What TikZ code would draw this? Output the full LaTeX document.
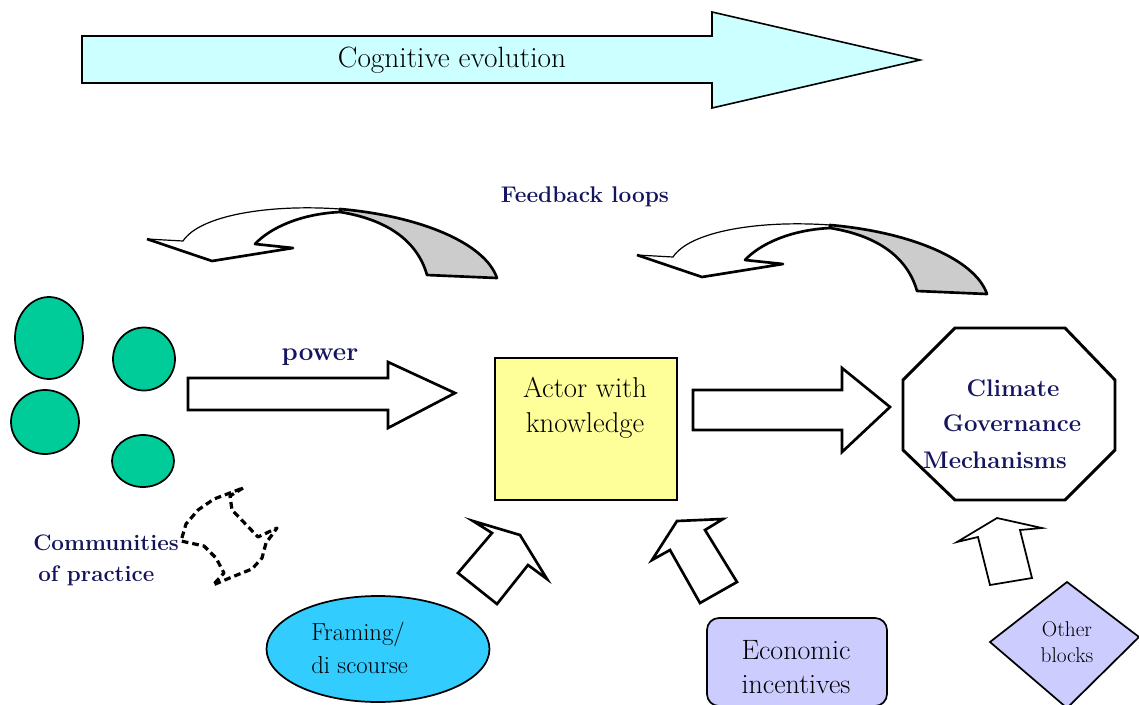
\documentclass[tikz,border=0pt]{standalone}
\usepackage{fontspec}
\usetikzlibrary{shapes.geometric}
\definecolor{cogfill}{HTML}{CCFFFF}
\definecolor{greenc}{HTML}{00CC99}
\definecolor{actorfill}{HTML}{FFFF99}
\definecolor{lav}{HTML}{CCCCFF}
\definecolor{frameblue}{HTML}{33CCFF}
\definecolor{loopgray}{HTML}{CCCCCC}
\definecolor{navytext}{RGB}{20,20,95}
\newcommand\setfs[2]{\fontsize{#1}{#2}\selectfont}
\tikzset{
  lbl/.style={inner sep=0pt, text=black},
  boldlbl/.style={inner sep=0pt, text=navytext, font=\bfseries},
  blockarrow/.style={draw=black, line width=2pt, fill=white, line join=miter},
  thinarrow/.style={draw=black, line width=1.3pt, fill=white},
  blob/.style={ellipse, draw=black, line width=1.3pt, fill=greenc, inner sep=0pt},
  dasharrow/.style={draw=black, line width=2.4pt, dash pattern=on 5pt off 3pt, line join=round},
}
\begin{document}
\begin{tikzpicture}[x=0.75pt,y=-0.75pt]
\useasboundingbox (0,0) rectangle (1139,704);

% Cognitive evolution arrow
\draw[draw=black, line width=1.2pt, fill=cogfill] (82,36) -- (712,36) -- (712,12) -- (920,60) -- (712,108) -- (712,83) -- (82,83) -- cycle;
\node[lbl, font=\setfs{22pt}{26pt}] (cog) at (452,60) {Cognitive evolution};

% Feedback label
\node[boldlbl, font=\bfseries\setfs{17pt}{20pt}] (fb) at (585,197) {Feedback loops};

% Feedback loop arrows
\foreach \sx/\sy in {0/0, 490/16} {
\begin{scope}[shift={(\sx,\sy)}]
  \fill[white] (147,239) -- (183,241) .. controls (200,215) and (270,204) .. (340,209)
     -- (340,212) .. controls (300,214) and (270,228) .. (255,244) -- (293,248) -- (212,261) -- cycle;
  \draw[fill=loopgray, line width=2pt, line join=round] (340,209) .. controls (420,216) and (485,243) .. (497,278)
     -- (427,275) .. controls (418,243) and (390,220) .. (340,212) -- cycle;
  \draw[line width=0.9pt] (147,239) -- (183,241) .. controls (200,215) and (270,204) .. (340,209);
  \draw[line width=2pt, line join=round] (340,212) .. controls (300,214) and (270,228) .. (255,244) -- (293,248) -- (212,261) -- (147,239);
\end{scope}
}

% Communities (green blobs)
\node[blob, minimum width=51pt, minimum height=61.5pt] (c1) at (49,338) {};
\node[blob, minimum width=46.5pt, minimum height=47.25pt] (c2) at (144,359) {};
\node[blob, minimum width=51pt, minimum height=48pt] (c3) at (45,422) {};
\node[blob, minimum width=46.5pt, minimum height=39pt] (c4) at (143,461) {};

% power arrow
\draw[blockarrow] (188,378) -- (388,378) -- (388,362) -- (455,393) -- (388,428) -- (388,410) -- (188,410) -- cycle;
\node[boldlbl, font=\bfseries\setfs{19.5pt}{22pt}] (pw) at (320,357) {power};

% Actor box
\node[draw=black, line width=1.3pt, fill=actorfill, minimum width=136.5pt, minimum height=106.5pt, inner sep=0pt] (actor) at (586,429) {};
\node[lbl, align=center, font=\setfs{21.5pt}{26pt}] (actortxt) at (585,408) {Actor with\\knowledge};

% Actor -> governance arrow
\draw[blockarrow] (693,390) -- (842,390) -- (842,368) -- (890,407) -- (842,452) -- (842,430) -- (693,430) -- cycle;

% Octagon
\draw[line width=2.2pt, fill=white] (955,328) -- (1065,328) -- (1115,380) -- (1115,450) -- (1065,500) -- (955,500) -- (903,450) -- (903,380) -- cycle;
\node[boldlbl, font=\bfseries\setfs{18pt}{20pt}] (cg1) at (1013,388) {Climate};
\node[boldlbl, font=\bfseries\setfs{18pt}{20pt}] (cg2) at (1012,423) {Governance};
\node[boldlbl, font=\bfseries\setfs{18pt}{20pt}] (cg3) at (995,460) {Mechanisms};

% Communities of practice label
\node[boldlbl, anchor=west, font=\bfseries\setfs{16.8pt}{20pt}] (cop1) at (33,543) {Communities};
\node[boldlbl, anchor=west, font=\bfseries\setfs{16.8pt}{20pt}] (cop2) at (38,576) {of practice};

% dashed arrow
\draw[dasharrow] (243,488) -- (230,496) -- (232,510) -- (258,537) -- (277,528) -- (266,543) -- (262,558) -- (252,569) -- (232,577) -- (213,585) -- (224,573) -- (216,558) -- (204,546) -- (181,541) -- (186,524) -- (198,510) -- (214,499) -- cycle;

% up arrows to actor
\draw[blockarrow] (473,521) -- (492,533) -- (458,573) -- (497,604) -- (528,565) -- (547,579) -- (520,535) -- cycle;
\draw[blockarrow] (723,519) -- (677,521) -- (652,560) -- (670,550) -- (700,603) -- (737,582) -- (705,530) -- cycle;

% up arrow to governance
\draw[thinarrow] (957,542) -- (997,518) -- (1042,528) -- (1020,530) -- (1032,578) -- (990,585) -- (978,537) -- cycle;

% Framing ellipse
\node[ellipse, draw=black, line width=1.3pt, fill=frameblue, minimum width=167.25pt, minimum height=79.5pt, inner sep=0pt] (frame) at (378,649) {};
\node[lbl, anchor=west, align=left, font=\setfs{18.5pt}{25pt}] (frametxt) at (311,648) {Framing/\\di scourse};

% Economic incentives
\node[draw=black, line width=1.3pt, fill=lav, rounded corners=9pt, minimum width=135pt, minimum height=66pt, inner sep=0pt] (econ) at (797,662) {};
\node[lbl, align=center, font=\setfs{21pt}{25pt}] (econtxt) at (796,667) {Economic\\incentives};

% Other blocks diamond
\draw[line width=1.3pt, fill=lav] (1067,582) -- (1139,637) -- (1067,708) -- (990,642) -- cycle;
\node[lbl, align=center, font=\setfs{16pt}{19pt}] (obtxt) at (1067,642) {Other\\blocks};
\end{tikzpicture}
\end{document}
